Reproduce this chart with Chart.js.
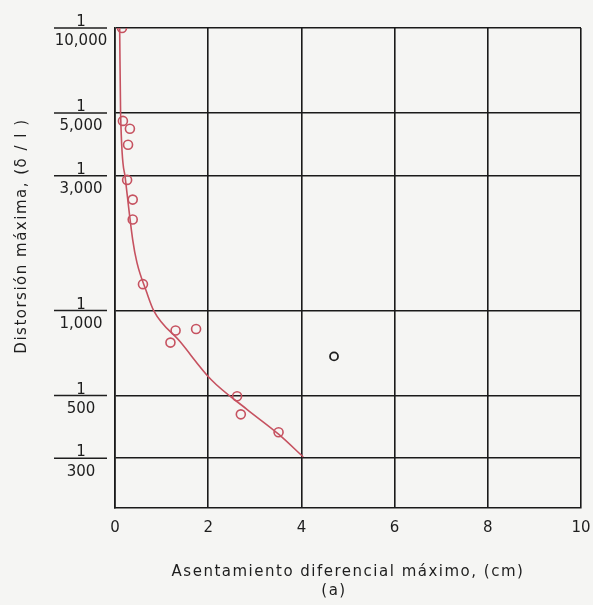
<!DOCTYPE html>
<html>
<head>
<meta charset="utf-8">
<script src="https://cdn.jsdelivr.net/npm/chart.js@4/dist/chart.umd.min.js"></script>
<style>
  html, body { margin: 0; padding: 0; background: #f5f5f3; }
  #wrap { width: 593px; height: 605px; position: relative; }
</style>
</head>
<body>
<div id="wrap"><canvas id="grafico"></canvas></div>
<script>
// Datos (x en cm, y como denominador de 1/N)
const puntosX = [0.15, 0.17, 0.32, 0.28, 0.26, 0.38, 0.38, 0.6, 1.3, 1.19, 1.74, 2.62, 2.7, 3.51];
const puntosY = [10000, 4690, 4400, 3860, 2900, 2470, 2100, 1240, 850, 770, 860, 497, 429, 371];
const atipicoX = [4.7];
const atipicoY = [688];
const curvaX = [0.1, 0.12, 0.22, 0.38, 0.47, 0.68, 0.83, 1.4, 2.06, 2.83, 3.51, 4.04];
const curvaY = [10000, 5000, 2950, 1780, 1480, 1160, 1000, 775, 570, 447, 365, 303];
const ticksY = [10000, 5000, 3000, 1000, 500, 300];
const etiquetasY = ["10,000", "5,000", "3,000", "1,000", "500", "300"];
const ticksX = [0, 2, 4, 6, 8, 10];

const rojo = "rgb(198, 82, 96)";
const fuente = "DejaVu Sans";

function pares(xs, ys) {
  return xs.map((x, i) => ({ x: x, y: ys[i] }));
}

// Etiquetas en forma de fracción y títulos de ejes
const textos = {
  id: "textos",
  afterDraw(chart) {
    const ctx = chart.ctx;
    const y = chart.scales.y;
    ctx.save();
    ctx.fillStyle = "#1e1e1e";
    ctx.strokeStyle = "#1e1e1e";
    ctx.lineWidth = 1.6;
    ctx.font = "15px '" + fuente + "'";
    ctx.textAlign = "center";
    ticksY.forEach((v, i) => {
      const py = y.getPixelForValue(v);
      ctx.beginPath();
      ctx.moveTo(54, py);
      ctx.lineTo(107, py);
      ctx.stroke();
      ctx.textBaseline = "alphabetic";
      ctx.fillText("1", 81, py - 2);
      ctx.textBaseline = "top";
      ctx.fillText(etiquetasY[i], 81, py + 6);
    });
    // título eje y
    ctx.letterSpacing = "1.5px";
    ctx.translate(22, 236);
    ctx.rotate(-Math.PI / 2);
    ctx.textBaseline = "middle";
    ctx.fillText("Distorsión máxima, (δ / l )", 0, 0);
    ctx.restore();

    ctx.save();
    ctx.fillStyle = "#1e1e1e";
    ctx.font = "15px '" + fuente + "'";
    ctx.letterSpacing = "1.5px";
    ctx.textAlign = "center";
    ctx.textBaseline = "middle";
    ctx.fillText("Asentamiento diferencial máximo, (cm)", 348, 572);
    ctx.fillText("(a)", 334, 591);
    ctx.restore();
  },
};

const ctx = document.getElementById("grafico").getContext("2d");
new Chart(ctx, {
  type: "scatter",
  data: {
    datasets: [
      {
        label: "Curva",
        type: "line",
        data: pares(curvaX, curvaY),
        borderColor: rojo,
        borderWidth: 1.6,
        cubicInterpolationMode: "monotone",
        pointRadius: 0,
        fill: false,
      },
      {
        label: "Datos",
        data: pares(puntosX, puntosY),
        pointStyle: "circle",
        pointRadius: 4.5,
        borderColor: rojo,
        borderWidth: 1.6,
        backgroundColor: "rgba(0,0,0,0)",
      },
      {
        label: "Atípico",
        data: pares(atipicoX, atipicoY),
        pointStyle: "circle",
        pointRadius: 4,
        borderColor: "#1e1e1e",
        borderWidth: 1.8,
        backgroundColor: "rgba(0,0,0,0)",
      },
    ],
  },
  options: {
    responsive: true,
    maintainAspectRatio: false,
    animation: false,
    layout: {
      padding: { top: 28, right: 12, left: 0, bottom: 0 },
    },
    plugins: {
      legend: { display: false },
      tooltip: { enabled: false },
    },
    scales: {
      x: {
        type: "linear",
        min: 0,
        max: 10,
        afterBuildTicks: (s) => {
          s.ticks = ticksX.map((v) => ({ value: v }));
        },
        afterFit: (s) => {
          s.height = 97;
          s.paddingLeft = 0;
          s.paddingRight = 0;
        },
        grid: {
          color: "#1a1a1a",
          lineWidth: 1.6,
          drawTicks: false,
        },
        border: { color: "#1a1a1a", width: 1.6 },
        ticks: {
          padding: 11,
          color: "#1e1e1e",
          font: { size: 15, family: fuente },
        },
      },
      y: {
        type: "logarithmic",
        min: 200,
        max: 10000,
        afterBuildTicks: (s) => {
          s.ticks = ticksY.map((v) => ({ value: v }));
        },
        afterFit: (s) => {
          s.width = 115;
          s.paddingTop = 0;
          s.paddingBottom = 0;
        },
        grid: {
          color: "#1a1a1a",
          lineWidth: 1.6,
          drawTicks: false,
        },
        border: { color: "#1a1a1a", width: 1.6 },
        ticks: { display: false },
      },
    },
  },
  plugins: [textos],
});
</script>
</body>
</html>
